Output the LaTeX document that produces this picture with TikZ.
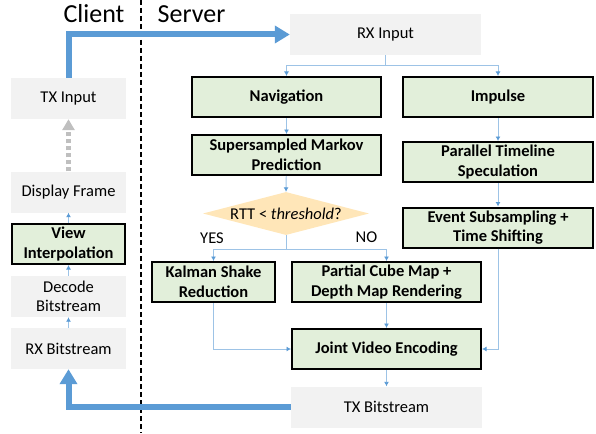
\documentclass[tikz,border=0pt]{standalone}
\usepackage{fontspec}
\setmainfont{Carlito}
\usetikzlibrary{arrows.meta,shapes.geometric}
\definecolor{boxgray}{HTML}{F2F2F2}
\definecolor{boxgreen}{HTML}{E2EFDA}
\definecolor{condfill}{HTML}{FFE6B8}
\definecolor{linkblue}{HTML}{9DC3E6}
\definecolor{tipblue}{HTML}{5B9BD5}
\definecolor{ghostgray}{HTML}{BFBFBF}

\begin{document}
\begin{tikzpicture}[x=1pt,y=-1pt,
	font=\fontsize{16.5}{19.5}\selectfont,
	plain/.style={fill=boxgray, align=center, inner sep=0pt, minimum height=41pt},
	stage/.style={draw=black, line width=2pt, fill=boxgreen, align=center, inner sep=0pt,
		minimum height=40pt, font=\fontsize{16.5}{19.5}\selectfont\bfseries},
	link/.style={draw=linkblue, line width=0.9pt, -{Latex[length=4.5pt,width=5pt,color=tipblue]}},
	big/.style={draw=tipblue, line width=6pt, -{Triangle[length=15pt,width=17pt]}},
	ghost/.style={draw=ghostgray, line width=4.5pt, dash pattern=on 4pt off 3pt,
		-{Triangle[length=11pt,width=12pt,color=ghostgray]}}]
	\useasboundingbox (0,0) rectangle (596,433);

	\draw[line width=1.1pt, dash pattern=on 5pt off 3pt] (141,0) -- (141,433);
	\node[font=\fontsize{26}{30}\selectfont] (client) at (94,14) {Client};
	\node[font=\fontsize{26}{30}\selectfont] (server) at (191.5,14) {Server};

	% client side
	\node[plain, minimum width=115pt] (txin) at (68.5,98.5) {TX Input};
	\node[plain, minimum width=115pt] (disp) at (68.5,192) {Display Frame};
	\node[stage, minimum width=113pt] (view) at (68.5,244) {View\\Interpolation};
	\node[plain, minimum width=115pt] (dec) at (68.5,296.5) {Decode\\Bitstream};
	\node[plain, minimum width=115pt] (rxbs) at (68.5,348.5) {RX Bitstream};

	% server side
	\node[plain, minimum width=191pt] (rxin) at (385.5,34.5) {RX Input};
	\node[stage, minimum width=189pt] (nav) at (286.5,97) {Navigation};
	\node[stage, minimum width=190pt] (imp) at (498,97) {Impulse};
	\node[stage, minimum width=189pt] (markov) at (286.5,155) {Supersampled Markov\\Prediction};
	\node[stage, minimum width=190pt] (par) at (498,162) {Parallel Timeline\\Speculation};
	\node[stage, minimum width=190pt] (ev) at (498,227.5) {Event Subsampling +\\Time Shifting};
	\node[diamond, fill=condfill, inner sep=0pt, minimum width=166pt, minimum height=43pt] (rtt) at (286,213.5) {};
	\node (rtttext) at (rtt.center) {RTT < \textit{threshold}?};
	\node (yes) at (212,238.5) {YES};
	\node (no) at (366.5,237) {NO};
	\node[stage, minimum width=123pt] (kal) at (213.5,282) {Kalman Shake\\Reduction};
	\node[stage, minimum width=189pt] (cube) at (386.5,282) {Partial Cube Map +\\Depth Map Rendering};
	\node[stage, minimum width=189pt] (joint) at (386.5,349) {Joint Video Encoding};
	\node[plain, minimum width=191pt] (txbs) at (386.5,407) {TX Bitstream};

	\draw[link] (rxin.south) -- ++(0,10) -| (nav.north);
	\draw[link] (rxin.south) -- ++(0,10) -| (imp.north);
	\draw[link] (nav) -- (markov);
	\draw[link] (markov) -- (rtt.north);
	\draw[link] (rtt.south) -- ++(0,14) -| (kal.north);
	\draw[link] (rtt.south) -- ++(0,14) -| (cube.north);
	\draw[link] (imp) -- (par);
	\draw[link] (par) -- (ev);
	\draw[link] (cube) -- (joint);
	\draw[link] (kal.south) |- (joint.west);
	\draw[link] (ev.south) |- (joint.east);
	\draw[link] (joint) -- (txbs);

	\draw[link] (rxbs) -- (dec);
	\draw[link] (dec) -- (view);
	\draw[link] (view) -- (disp);
	\draw[ghost] (disp) -- (txin);

	\draw[big] (txin.north) |- (rxin.west);
	\draw[big] (txbs.west) -| (rxbs.south);
\end{tikzpicture}
\end{document}
